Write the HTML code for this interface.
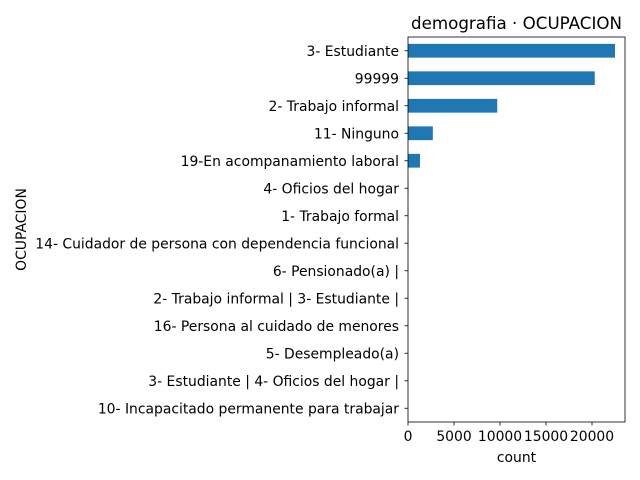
<!DOCTYPE html>
<html><head><meta charset="utf-8"><style>body{margin:0;background:#fff}svg{display:block;font-family:"DejaVu Sans","Liberation Sans",sans-serif}</style></head>
<body>
<svg id="chart" width="640" height="480"></svg>
<script>
const categories=["3- Estudiante","99999","2- Trabajo informal","11- Ninguno","19-En acompanamiento laboral","4- Oficios del hogar","1- Trabajo formal","14- Cuidador de persona con dependencia funcional","6- Pensionado(a) |","2- Trabajo informal | 3- Estudiante |","16- Persona al cuidado de menores","5- Desempleado(a)","3- Estudiante | 4- Oficios del hogar |","10- Incapacitado permanente para trabajar"];
const counts=[22500,20300,9700,2700,1300,40,30,20,10,8,6,5,3,2];
const xTicks=[0,5000,10000,15000,20000];
const svg=document.getElementById('chart');const NS='http://www.w3.org/2000/svg';
const L=408,R=625,T=37,B=422,xMax=23587;
const x=v=>L+(v/xMax)*(R-L);
const step=(B-T)/categories.length;
const y=i=>T+step*(i+0.5);
function mk(t,a,txt){const e=document.createElementNS(NS,t);for(const k in a)e.setAttribute(k,a[k]);if(txt!=null)e.textContent=txt;svg.appendChild(e);return e;}
counts.forEach((v,i)=>{const r=mk('rect',{x:L,y:y(i)-step/4,width:Math.max(0,x(v)-L),height:step/2,fill:'#1f77b4'});


mk('line',{x1:L-3.5,x2:L,y1:y(i),y2:y(i),stroke:'#000','stroke-width':0.8});
const t=mk('text',{x:L-9,y:y(i)+5,'text-anchor':'end','font-size':13.9,fill:'#000'},categories[i]);

});
xTicks.forEach(v=>{mk('line',{x1:x(v),x2:x(v),y1:B,y2:B+3.5,stroke:'#000','stroke-width':0.8});
const t=mk('text',{x:x(v),y:B+19,'text-anchor':'middle','font-size':13.9},String(v));

});
const f=mk('rect',{x:L,y:T,width:R-L,height:B-T,fill:'none',stroke:'#000','stroke-width':0.8});


const xt=mk('text',{x:(L+R)/2,y:462,'text-anchor':'middle','font-size':13.9},'count');


const yt=mk('text',{x:26,y:(T+B)/2,'text-anchor':'middle','font-size':13.9,transform:'rotate(-90 26 '+((T+B)/2)+')'},'OCUPACION');


const ti=mk('text',{x:(L+R)/2,y:29,'text-anchor':'middle','font-size':16.7},'demografia · OCUPACION');


</script>
</body></html>
